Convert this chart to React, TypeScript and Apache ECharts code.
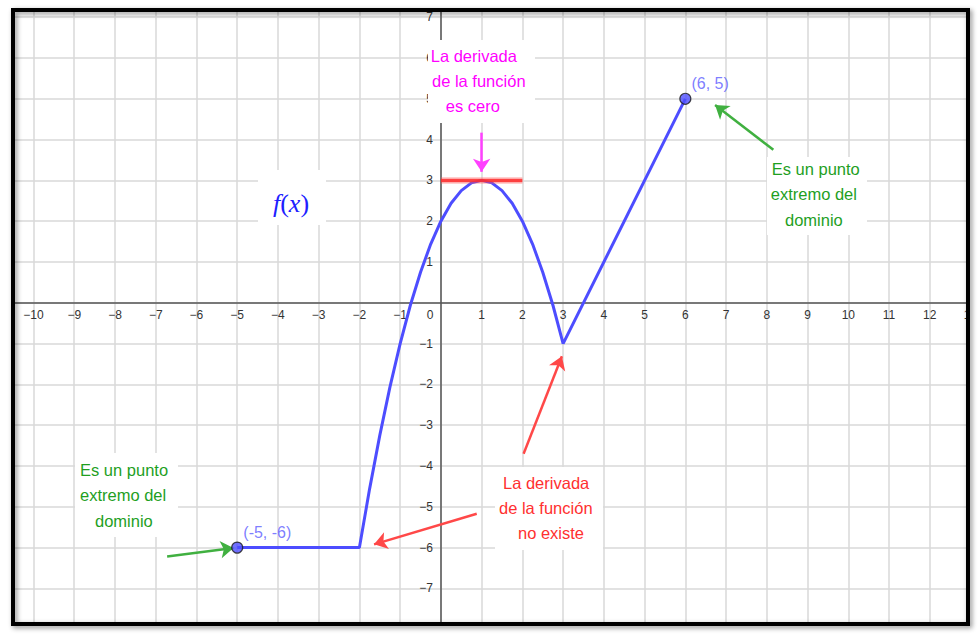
import React, { useEffect, useRef } from "react";
import * as echarts from "echarts";

// ---- data ----
const curveX = [-5, -2, -1.75, -1.5, -1.25, -1, -0.75, -0.5, -0.25, 0, 0.25, 0.5, 0.75, 1, 1.25, 1.5, 1.75, 2, 2.25, 2.5, 2.75, 3, 6];
const curveY = [-6, -6, -4.56, -3.25, -2.06, -1, -0.06, 0.75, 1.44, 2, 2.44, 2.75, 2.94, 3, 2.94, 2.75, 2.44, 2, 1.44, 0.75, -0.06, -1, 5];
const endpointX = [-5, 6];
const endpointY = [-6, 5];
const endpointLabels = ["(-5, -6)", "(6, 5)"];
const tangentX = [0, 2];
const tangentY = [3, 3];
const arrowFromX = [1, 8.16, -6.72, 2.03, 0.88];
const arrowFromY = [4.17, 3.75, -6.22, -3.7, -5.17];
const arrowToX = [1, 6.73, -5.09, 2.97, -1.64];
const arrowToY = [3.21, 4.85, -6.01, -1.31, -5.92];
const xRange = [-11, 13];
const yRange = [-8, 8];

// ---- layout / styles ----
const GRID_LEFT = -7.24;
const GRID_TOP = -23.6;
const GRID_W = 977.76;
const GRID_H = 652.8;
const X0 = 440.9; // pixel of x = 0
const Y0 = 302.8; // pixel of y = 0
const BLUE = "#4d4dff";
const arrowColors = ["#ff40ff", "#40b040", "#40b040", "#ff4848", "#ff4848"];
const FONT = "Liberation Sans";

const minus = (v: number) => (v < 0 ? "\u2212" + Math.abs(v) : String(v));
const fmtX = (v: number) => (v === 0 || v === xRange[0] ? "" : minus(v));
const fmtY = (v: number) => (v === 0 || v === yRange[0] || v === yRange[1] ? "" : minus(v));

type Note = { lines: { t: string; x: number; y: number }[]; color: string; box: [number, number, number, number] };
const notes: Note[] = [
  {
    color: "#ff00ff",
    box: [428, 40, 107, 83],
    lines: [
      { t: "La derivada", x: 430.7, y: 55.5 },
      { t: "de la función", x: 432, y: 80.5 },
      { t: "es cero", x: 445.7, y: 106 },
    ],
  },
  {
    color: "#1f9f1f",
    box: [767, 157, 100, 78],
    lines: [
      { t: "Es un punto", x: 771.7, y: 168.5 },
      { t: "extremo del", x: 770.7, y: 194 },
      { t: "dominio", x: 785, y: 219.5 },
    ],
  },
  {
    color: "#1f9f1f",
    box: [75, 453, 103, 84],
    lines: [
      { t: "Es un punto", x: 80, y: 469.5 },
      { t: "extremo del", x: 80, y: 495 },
      { t: "dominio", x: 95, y: 520.5 },
    ],
  },
  {
    color: "#ff3030",
    box: [495, 467, 108, 83],
    lines: [
      { t: "La derivada", x: 503, y: 482.5 },
      { t: "de la función", x: 499, y: 508 },
      { t: "no existe", x: 518, y: 532.5 },
    ],
  },
];

function buildGraphic() {
  const els: any[] = [];
  notes.forEach((n) => {
    els.push({ type: "rect", z: 50, shape: { x: n.box[0], y: n.box[1], width: n.box[2], height: n.box[3] }, style: { fill: "#ffffff" } });
    n.lines.forEach((l) =>
      els.push({
        type: "text",
        z: 51,
        x: l.x,
        y: l.y,
        style: { text: l.t, fill: n.color, fontSize: 16.5, fontFamily: FONT, align: "left", verticalAlign: "middle" },
      })
    );
  });
  // f(x) label
  els.push({ type: "rect", z: 50, shape: { x: 258, y: 170, width: 68, height: 55 }, style: { fill: "#ffffff" } });
  els.push({
    type: "text",
    z: 51,
    x: 291,
    y: 203,
    style: {
      text: "{i|f}{r|(}{i|x}{r|)}",
      fill: "#2020ff",
      align: "center",
      verticalAlign: "middle",
      rich: {
        i: { fontSize: 26, fontFamily: "Liberation Serif", fontStyle: "italic", fill: "#2020ff" },
        r: { fontSize: 26, fontFamily: "Liberation Serif", fill: "#2020ff" },
      },
    },
  });
  // origin label
  els.push({
    type: "text",
    z: 51,
    x: 430,
    y: 315,
    style: { text: "0", fill: "#333", fontSize: 12, fontFamily: FONT, align: "center", verticalAlign: "middle" },
  });
  // covers outside the frame
  const covers = [
    [0, 0, 980, 10],
    [0, 624, 980, 13],
    [0, 0, 13, 637],
    [968, 0, 12, 637],
  ];
  covers.forEach((c) =>
    els.push({ type: "rect", z: 90, shape: { x: c[0], y: c[1], width: c[2], height: c[3] }, style: { fill: "#ffffff" } })
  );
  els.push({
    type: "rect",
    z: 100,
    shape: { x: 13, y: 10, width: 955, height: 614 },
    style: { fill: "none", stroke: "#000", lineWidth: 4, shadowBlur: 5, shadowColor: "rgba(0,0,0,0.45)", shadowOffsetX: 2, shadowOffsetY: 2 },
  });
  return els;
}

export default function App() {
  const ref = useRef<HTMLDivElement>(null);
  useEffect(() => {
    const chart = echarts.init(ref.current!, undefined, { renderer: "svg" });
    const axisCommon = {
      type: "value" as const,
      interval: 1,
      axisLine: { onZero: false, lineStyle: { color: "#555", width: 1.5 } },
      axisTick: { show: false },
      splitLine: { show: true, lineStyle: { color: "#d8d8d8", width: 1.5 } },
    };
    chart.setOption({
      animation: false,
      backgroundColor: "#ffffff",
      grid: { left: GRID_LEFT, top: GRID_TOP, width: GRID_W, height: GRID_H, containLabel: false, outerBoundsMode: "none" },
      xAxis: {
        ...axisCommon,
        position: "bottom",
        offset: -(GRID_TOP + GRID_H - Y0),
        min: xRange[0],
        max: xRange[1],
        axisLabel: { formatter: fmtX, color: "#333", fontSize: 12, fontFamily: FONT, margin: 6, showMinLabel: true, showMaxLabel: true },
      },
      yAxis: {
        ...axisCommon,
        position: "left",
        offset: -(X0 - GRID_LEFT),
        min: yRange[0],
        max: yRange[1],
        axisLabel: { formatter: fmtY, color: "#333", fontSize: 12, fontFamily: FONT, margin: 8, showMinLabel: true, showMaxLabel: true },
      },
      series: [
        {
          type: "line",
          name: "f",
          data: curveX.map((x, i) => [x, curveY[i]]),
          showSymbol: false,
          symbol: "none",
          lineStyle: { color: BLUE, width: 3 },
          emphasis: { disabled: true },
          z: 3,
        },
        {
          type: "line",
          name: "tangent glow",
          data: tangentX.map((x, i) => [x, tangentY[i]]),
          showSymbol: false,
          symbol: "none",
          lineStyle: { color: "#ff6060", width: 7, opacity: 0.3 },
          emphasis: { disabled: true },
          z: 4,
        },
        {
          type: "line",
          name: "tangent",
          data: tangentX.map((x, i) => [x, tangentY[i]]),
          showSymbol: false,
          symbol: "none",
          lineStyle: { color: "#ff2a2a", width: 3.5, opacity: 0.85 },
          emphasis: { disabled: true },
          z: 4,
        },
        {
          type: "line",
          name: "arrows",
          data: [],
          markLine: {
            silent: true,
            symbol: ["none", "arrow"],
            symbolSize: 13,
            label: { show: false },
            emphasis: { disabled: true },
            data: arrowFromX.map((x, i) => [
              { coord: [x, arrowFromY[i]], lineStyle: { color: arrowColors[i], width: 2.5, type: "solid" } },
              { coord: [arrowToX[i], arrowToY[i]] },
            ]),
          },
          z: 4,
        },
        {
          type: "scatter",
          name: "endpoints",
          data: endpointX.map((x, i) => ({ value: [x, endpointY[i]], name: endpointLabels[i] })),
          symbol: "circle",
          symbolSize: 11,
          itemStyle: { color: BLUE, borderColor: "#1a1a1a", borderWidth: 1.2 },
          label: {
            show: true,
            position: "right",
            distance: 0,
            offset: [0, -15.5],
            formatter: (p: any) => p.name,
            color: "#5c5cff",
            fontSize: 16,
            fontFamily: FONT,
          },
          emphasis: { disabled: true },
          z: 5,
        },
      ],
      graphic: buildGraphic(),
    });
    return () => chart.dispose();
  }, []);
  return <div ref={ref} style={{ position: "fixed", left: 0, top: 0, width: 980, height: 637 }} />;
}
